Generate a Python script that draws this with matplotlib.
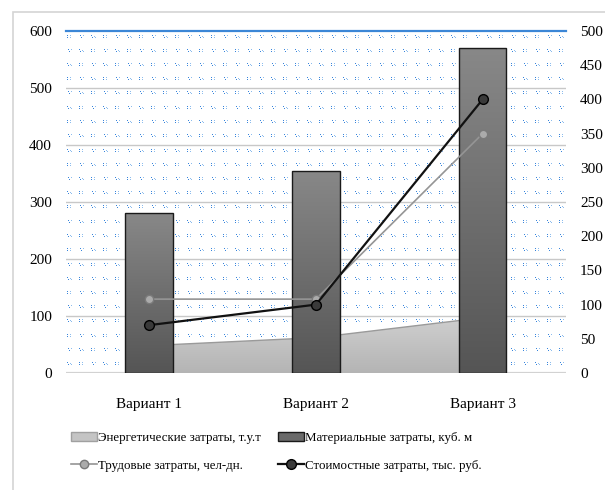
import numpy as np
import matplotlib
matplotlib.use("Agg")
import matplotlib.pyplot as plt
from matplotlib.patches import Rectangle
from matplotlib.lines import Line2D
from matplotlib.patches import Patch

# Data
categories = ["Вариант 1", "Вариант 2", "Вариант 3"]
energy = [48, 62, 97]          # Энергетические затраты, т.у.т (left axis)
material = [280, 355, 570]     # Материальные затраты, куб. м (left axis)
labor = [108, 108, 350]        # Трудовые затраты, чел-дн. (right axis)
cost = [70, 100, 400]          # Стоимостные затраты, тыс. руб. (right axis)

left_ticks = [0, 100, 200, 300, 400, 500, 600]
right_ticks = [0, 50, 100, 150, 200, 250, 300, 350, 400, 450, 500]

plt.rcParams["font.family"] = ["Liberation Serif", "DejaVu Serif"]

W, H, DPI = 605, 490, 100
AX_L, AX_T, AX_W, AX_H = 66, 31, 500, 342

fig = plt.figure(figsize=(W / DPI, H / DPI), dpi=DPI)
fig.patches.append(Rectangle((13 / W, -0.1), 1.2, 1.1 - 12 / H,
                             transform=fig.transFigure, facecolor="none",
                             edgecolor="#d4d4d4", lw=1.2, zorder=-5))

# dotted-grid texture for the plot-area background
tex = np.ones((AX_H, AX_W, 4))
dot_dark = np.array([0.22, 0.52, 0.86])
dot_light = np.array([0.55, 0.74, 0.93])
clusters = [[(0, 0), (3, 0), (0, 2), (3, 2)],
            [(1, 0), (4, 0), (2, 2)],
            [(0, 0), (3, 1), (1, 2), (4, 2)]]
for r, gy in enumerate(np.arange(3.5, AX_H, AX_H / 24)):
    for c, gx in enumerate(range(1, AX_W, 12)):
        for k, (dx, dy) in enumerate(clusters[(r + c) % 3]):
            px, py = gx + dx, int(round(gy)) + dy
            if px < AX_W and py < AX_H:
                tex[py, px, :3] = dot_dark if k % 2 == 0 else dot_light
fig.figimage(tex, xo=AX_L, yo=H - AX_T - AX_H, zorder=-1)

ax = fig.add_axes([AX_L / W, 1 - (AX_T + AX_H) / H, AX_W / W, AX_H / H])
ax.patch.set_visible(False)

x = np.arange(len(categories))

for yv in left_ticks[1:-1]:
    ax.axhline(yv, color="#c8c8c8", lw=1.0, zorder=1)
ax.axhline(0, color="#d2d2d2", lw=1.6, zorder=1)

# energy area with a soft vertical gradient
area = ax.fill_between(x, 0, energy, facecolor="none", edgecolor="none", zorder=2)
grad = np.linspace(0, 1, 256).reshape(-1, 1)
im = ax.imshow(grad, cmap=matplotlib.colors.LinearSegmentedColormap.from_list(
    "ag", ["#b4b4b4", "#cfcfcf"]), extent=(x[0], x[-1], 0, max(energy)),
    origin="lower", aspect="auto", zorder=2)
im.set_clip_path(area.get_paths()[0], transform=ax.transData)
ax.plot(x, energy, color="#9a9a9a", lw=1.0, zorder=2.5)

# material bars with gradient fill
bars = ax.bar(x, material, width=0.286, facecolor="none", edgecolor="#1a1a1a",
              lw=1.0, zorder=4)
bar_cmap = matplotlib.colors.LinearSegmentedColormap.from_list(
    "bg", ["#555555", "#888888"])
for b in bars:
    bim = ax.imshow(grad, cmap=bar_cmap,
                    extent=(b.get_x(), b.get_x() + b.get_width(), 0, b.get_height()),
                    origin="lower", aspect="auto", zorder=3)
    bim.set_clip_path(b)
ax.set_xlim(-0.5, len(categories) - 0.5)
ax.set_ylim(0, 600)

ax.set_xticks(x)
ax.set_xticklabels(categories, fontsize=10.5)
ax.set_yticks(left_ticks)
ax.tick_params(axis="both", length=0, labelsize=11)
ax.tick_params(axis="x", pad=18)
ax.tick_params(axis="y", pad=10)
for s in ["left", "right", "bottom"]:
    ax.spines[s].set_visible(False)
ax.spines["top"].set_color("#3b86d6")
ax.spines["top"].set_linewidth(1.6)

# secondary axis lines
labor_style = dict(color="#959595", lw=1.2, marker="o", markersize=6,
                   markerfacecolor="#ababab", markeredgecolor="#7a7a7a")
cost_style = dict(color="#111111", lw=1.6, marker="o", markersize=7,
                  markerfacecolor="#3a3a3a", markeredgecolor="#000000")

ax2 = ax.twinx()
ax2.patch.set_visible(False)
ax2.set_ylim(0, 500)
ax2.set_yticks(right_ticks)
ax2.tick_params(axis="y", length=0, labelsize=11, pad=10)
for s in ax2.spines.values():
    s.set_visible(False)
ax2.plot(x, labor, zorder=5, **labor_style)
ax2.plot(x, cost, zorder=6, **cost_style)

handles = [
    Patch(facecolor="#c4c4c4", edgecolor="#a0a0a0"),
    Line2D([], [], **labor_style),
    Patch(facecolor="#6a6a6a", edgecolor="#1a1a1a"),
    Line2D([], [], **cost_style),
]
labels = ["Энергетические затраты, т.у.т", "Трудовые затраты, чел-дн.",
          "Материальные затраты, куб. м", "Стоимостные затраты, тыс. руб."]
fig.legend(handles, labels, ncol=2, loc="upper left",
           bbox_to_anchor=(66 / W, 1 - 427 / H), frameon=False,
           fontsize=9.3, handlelength=2.0, handletextpad=0.1,
           columnspacing=1.3, labelspacing=1.2, borderaxespad=0)

fig.savefig("out.png", dpi=DPI)
